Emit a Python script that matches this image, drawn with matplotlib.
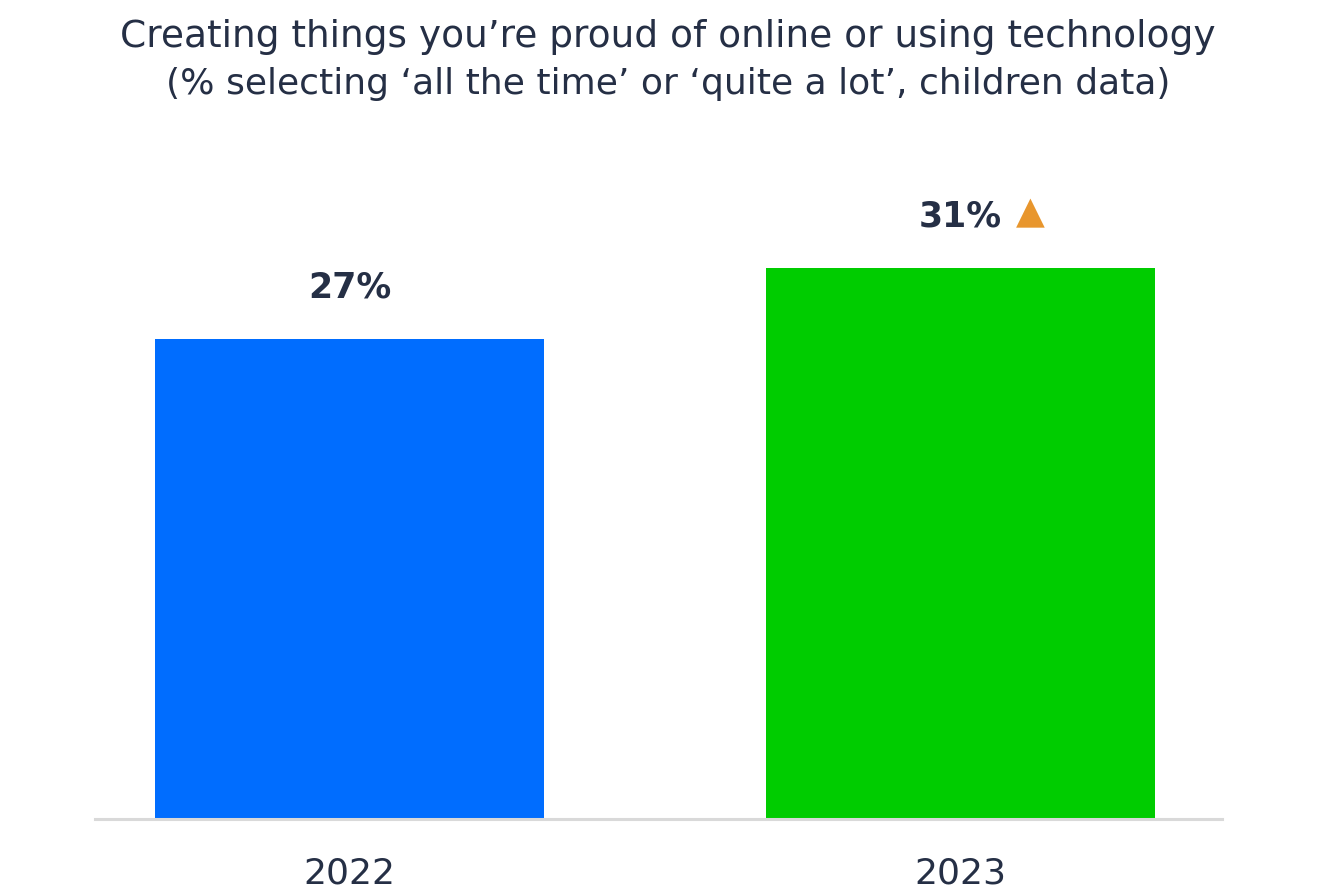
import matplotlib.pyplot as plt

years = ["2022", "2023"]
values = [27, 31]
bar_colors = ["#006DFF", "#00CC00"]
sig_up = [False, True]

title = "Creating things you\u2019re proud of online or using technology"
subtitle = "(% selecting \u2018all the time\u2019 or \u2018quite a lot\u2019, children data)"

text_color = "#252F45"
plt.rcParams['font.family'] = ['DejaVu Sans']

fig = plt.figure(figsize=(13.36, 8.95), dpi=100)
# axes spans baseline (820px) up to 180px, left 95px to right 1222px
ax = fig.add_axes([95 / 1336, (895 - 820) / 895, (1222 - 95) / 1336, (820 - 180) / 895])

x = list(range(len(years)))
ax.bar(x, values, width=0.637, color=bar_colors)
ax.set_xlim(-0.4165, 1.428)
ax.set_ylim(0, 36)

for xi, v, up in zip(x, values, sig_up):
    ax.annotate(f"{v}%", (xi, v), xytext=(0, 38), textcoords="offset points",
                ha="center", va="center", fontsize=25, fontweight="bold", color=text_color)
    if up:
        ax.annotate("\u25b2", (xi, v), xytext=(50, 40), textcoords="offset points",
                    ha="center", va="center", fontsize=27, color="#E8962D")

ax.set_xticks(x)
ax.set_xticklabels(years, fontsize=26, color=text_color)
ax.tick_params(axis="x", length=0, pad=26)
ax.set_yticks([])
for side in ["left", "right", "top"]:
    ax.spines[side].set_visible(False)
ax.spines["bottom"].set_color("#D9D9D9")
ax.spines["bottom"].set_linewidth(2.2)

fig.text(0.5, 1 - 37 / 895, title, ha="center", va="center", fontsize=27, color=text_color)
fig.text(0.5, 1 - 84 / 895, subtitle, ha="center", va="center", fontsize=26, color=text_color)

fig.savefig("out.png", dpi=100)
